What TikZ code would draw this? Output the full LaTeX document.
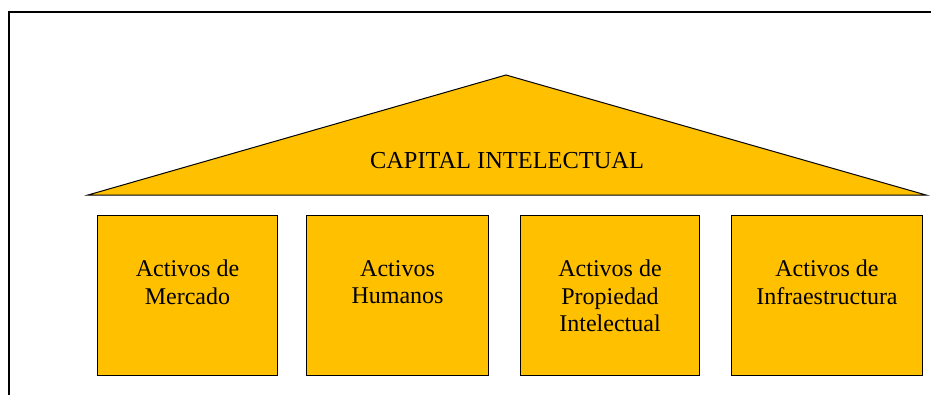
\documentclass[tikz,border=0pt]{standalone}
\usepackage{fontspec}
\setmainfont{Liberation Serif}
\definecolor{gold}{RGB}{255,192,0}
\begin{document}
\begin{tikzpicture}[x=1pt,y=-1pt,
  pillar/.style={draw=black,line width=1pt,fill=gold,minimum height=160pt,inner sep=0pt,anchor=north west},
  lbl/.style={align=center,inner sep=0pt,anchor=north,font=\fontsize{24}{27.5}\selectfont},
  roof/.style={draw=black,line width=1pt,fill=gold,line join=miter}]
\useasboundingbox (0,0) rectangle (931,394);
% frame
\coordinate (fTL) at (9,12);
\coordinate (fTR) at (935,12);
\coordinate (fBL) at (9,398);
\draw[line width=1.5pt] (fTR) -- (fTL) -- (fBL);
% roof
\coordinate (rL) at (88,195);
\coordinate (rA) at (506,75);
\coordinate (rR) at (926,195);
\draw[roof] (rL) -- (rA) -- (rR) -- cycle;
\node[inner sep=0pt,anchor=base,font=\fontsize{24.4}{28}\selectfont] (cap) at (507,168) {CAPITAL INTELECTUAL};
% pillars
\node[pillar,minimum width=180pt] (b1) at (97,215) {};
\node[pillar,minimum width=182pt] (b2) at (306,215) {};
\node[pillar,minimum width=179pt] (b3) at (520,215) {};
\node[pillar,minimum width=191pt] (b4) at (731,215) {};
\node[lbl] (t1) at ([yshift=-45pt]b1.north) {Activos de\\Mercado};
\node[lbl] (t2) at ([yshift=-45pt]b2.north) {Activos\\Humanos};
\node[lbl] (t3) at ([yshift=-45pt]b3.north) {Activos de\\Propiedad\\Intelectual};
\node[lbl] (t4) at ([yshift=-45pt]b4.north) {Activos de\\Infraestructura};
\end{tikzpicture}
\end{document}
